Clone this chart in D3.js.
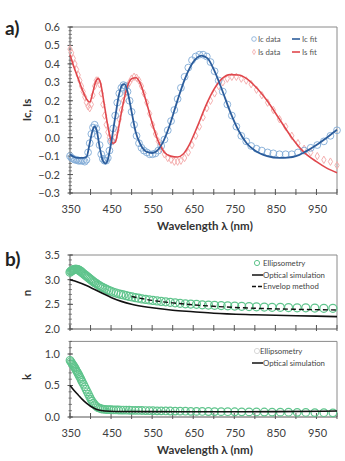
<!DOCTYPE html>
<html>
<head>
<meta charset="utf-8">
<script src="https://cdn.jsdelivr.net/npm/d3@7"></script>
<style>
  body { margin: 0; background: #fff; }
  svg { display: block; font-family: Lato, "Open Sans", sans-serif; }
</style>
</head>
<body>
<svg id="chart" width="345" height="461"></svg>
<script>
// ---- panel a: Ic / Is ----
const dataWl = [350,354,358,362,366,370,374,378,382,386,390,394,398,402,406,410,414,418,422,426,430,434,438,442,446,450,
  455,460,465,470,475,480,485,490,495,500,506,512,518,524,530,537,544,551,558,565,572,580,588,596,604,612,620,
  629,638,647,656,665,674,683,692,702,712,722,733,744,755,767,779,791,804,817,831,845,860,875,890,905,920,936,952,968,984,1000];
const icData = [-0.10,-0.11,-0.115,-0.12,-0.12,-0.125,-0.125,-0.125,-0.125,-0.13,-0.12,-0.08,-0.03,0.02,0.055,0.07,0.05,0.01,-0.04,-0.09,-0.115,-0.125,-0.125,-0.11,-0.07,-0.02,
  0.05,0.12,0.19,0.24,0.27,0.285,0.28,0.25,0.2,0.14,0.07,0.01,-0.03,-0.055,-0.07,-0.08,-0.09,-0.09,-0.085,-0.07,-0.045,-0.01,0.04,0.09,0.15,0.21,0.27,
  0.33,0.38,0.42,0.44,0.45,0.45,0.44,0.41,0.36,0.31,0.25,0.18,0.12,0.06,0.01,-0.02,-0.045,-0.06,-0.07,-0.08,-0.085,-0.09,-0.09,-0.09,-0.08,-0.07,-0.055,-0.04,-0.02,0.01,0.04];
const isData = [0.48,0.46,0.43,0.40,0.37,0.34,0.31,0.28,0.25,0.22,0.19,0.17,0.16,0.18,0.23,0.28,0.31,0.31,0.29,0.24,0.18,0.12,0.07,0.03,0.0,-0.02,
  -0.02,0.0,0.04,0.10,0.15,0.20,0.24,0.28,0.30,0.32,0.33,0.325,0.31,0.28,0.24,0.19,0.13,0.07,0.02,-0.02,-0.06,-0.09,-0.11,-0.12,-0.13,-0.13,-0.125,
  -0.11,-0.08,-0.04,0.01,0.06,0.11,0.16,0.20,0.24,0.28,0.30,0.32,0.33,0.33,0.32,0.31,0.29,0.26,0.23,0.19,0.15,0.10,0.06,0.01,-0.03,-0.06,-0.08,-0.10,-0.12,-0.13,-0.15];

const icFitWl = [350,360,370,380,390,398,405,410,415,422,430,436,442,450,460,470,478,483,490,500,510,520,535,550,560,575,590,610,630,650,670,685,700,720,740,760,780,800,830,860,880,900,920,950,975,1000];
const icFit   = [-0.09,-0.105,-0.11,-0.11,-0.105,-0.03,0.04,0.06,0.04,-0.05,-0.125,-0.14,-0.12,-0.03,0.11,0.24,0.288,0.29,0.25,0.14,0.03,-0.03,-0.075,-0.083,-0.075,-0.03,0.05,0.19,0.32,0.41,0.445,0.43,0.37,0.26,0.14,0.04,-0.03,-0.07,-0.10,-0.11,-0.108,-0.10,-0.08,-0.04,0.0,0.043];
const isFitWl = [350,360,370,380,390,398,405,412,419,425,432,440,448,455,460,468,478,490,500,511,520,535,550,565,580,595,612,625,640,660,680,700,720,740,760,780,800,830,860,890,920,950,975,1000];
const isFit   = [0.45,0.38,0.32,0.26,0.21,0.193,0.24,0.30,0.32,0.29,0.20,0.09,0.0,-0.03,-0.025,0.05,0.17,0.28,0.32,0.325,0.30,0.20,0.08,-0.02,-0.08,-0.10,-0.105,-0.09,-0.04,0.06,0.17,0.26,0.32,0.342,0.34,0.32,0.28,0.20,0.10,0.0,-0.08,-0.13,-0.165,-0.19];

// ---- panel b: n / k ----
const ellWl = [350,352,354,356,358,360,362,364,366,368,370,372,374,376,378,380,383,386,389,392,395,398,401,404,407,410,414,418,422,426,430,435,440,445,450,
  456,462,468,474,480,487,494,501,509,517,525,534,543,552,562,572,583,594,606,618,631,644,658,672,687,702,718,734,751,768,786,804,823,842,862,882,903,924,946,968,990];
const nEll = [3.15,3.17,3.18,3.19,3.20,3.205,3.21,3.21,3.21,3.205,3.20,3.19,3.18,3.17,3.155,3.14,3.12,3.10,3.08,3.06,3.04,3.02,3.00,2.98,2.96,2.94,2.92,2.895,2.875,2.855,2.84,2.82,2.80,2.78,2.765,
  2.745,2.73,2.715,2.70,2.69,2.675,2.66,2.65,2.635,2.625,2.61,2.60,2.59,2.58,2.57,2.56,2.55,2.54,2.53,2.52,2.51,2.505,2.50,2.49,2.485,2.48,2.475,2.47,2.465,2.46,2.455,2.45,2.445,2.44,2.44,2.435,2.43,2.43,2.425,2.42,2.42];
const kEll = [0.90,0.88,0.86,0.84,0.82,0.80,0.78,0.755,0.73,0.71,0.685,0.66,0.635,0.61,0.58,0.555,0.52,0.48,0.44,0.40,0.36,0.32,0.28,0.25,0.22,0.195,0.17,0.15,0.14,0.13,0.125,0.12,0.118,0.116,0.115,
  0.113,0.112,0.111,0.11,0.11,0.108,0.107,0.106,0.105,0.104,0.103,0.102,0.10,0.099,0.098,0.097,0.096,0.095,0.094,0.093,0.092,0.09,0.089,0.088,0.087,0.086,0.085,0.084,0.083,0.082,0.081,0.08,0.079,0.078,0.077,0.076,0.074,0.072,0.07,0.068,0.066];

const nSimWl = [350,370,390,410,430,450,475,500,550,600,650,700,800,900,1000];
const nSim   = [3.0,2.95,2.88,2.80,2.72,2.64,2.56,2.50,2.43,2.38,2.35,2.32,2.29,2.27,2.25];
const nEnvWl = [500,550,600,650,700,800,900,1000];
const nEnv   = [2.66,2.58,2.53,2.49,2.46,2.42,2.40,2.385];
const kSimWl = [350,360,370,380,390,400,410,420,435,460,550,700,850,1000];
const kSim   = [0.5,0.42,0.35,0.28,0.22,0.17,0.135,0.11,0.095,0.088,0.085,0.083,0.085,0.095];

const xTicks = [350,400,450,500,550,600,650,700,750,800,850,900,950,1000];
const xLabels = [350,450,550,650,750,850,950];

const svg = d3.select('#chart');
const x = d3.scaleLinear().domain([350, 1000]).range([70, 337]);

const blueFit = '#2c5d9c', blueDat = '#80aad6';
const redFit = '#e0474c', redDat = '#f3a8a8';
const green = '#5fc48c';
const axisCol = '#555', frameCol = '#8a8a8a', labCol = '#404040';

function frame(y, yMajor, yMinor, fmt) {
    const [y0, y1] = y.range();
    const g = svg.append('g');
    // grey top / right border
    g.append('line').attr('x1', x(350)).attr('x2', x(1000)).attr('y1', y1).attr('y2', y1).attr('stroke', frameCol);
    g.append('line').attr('x1', x(1000)).attr('x2', x(1000)).attr('y1', y0).attr('y2', y1).attr('stroke', frameCol);
    // left axis
    g.append('line').attr('x1', x(350)).attr('x2', x(350)).attr('y1', y0).attr('y2', y1).attr('stroke', axisCol);
    g.selectAll('.mn').data(yMinor).join('line')
        .attr('x1', x(350) - 1.5).attr('x2', x(350) + 2)
        .attr('y1', d => y(d)).attr('y2', d => y(d)).attr('stroke', axisCol).attr('stroke-width', 0.7);
    g.selectAll('.mj').data(yMajor).join('line')
        .attr('x1', x(350) - 2.5).attr('x2', x(350) + 3)
        .attr('y1', d => y(d)).attr('y2', d => y(d)).attr('stroke', axisCol);
    g.selectAll('.yl').data(yMajor).join('text')
        .attr('x', 60).attr('y', d => y(d)).attr('dy', '0.36em')
        .attr('text-anchor', 'end').attr('font-size', 11).attr('fill', labCol)
        .text(fmt);
    // bottom axis
    g.append('line').attr('x1', x(350)).attr('x2', x(1000)).attr('y1', y0).attr('y2', y0).attr('stroke', axisCol);
    g.selectAll('.xt').data(xTicks).join('line')
        .attr('x1', d => x(d)).attr('x2', d => x(d))
        .attr('y1', y0 + 2).attr('y2', y0 - 4).attr('stroke', axisCol);
    return g;
}

function xAxisLabels(yPos, titleY) {
    svg.append('g').selectAll('text').data(xLabels).join('text')
        .attr('x', d => x(d) + 1).attr('y', yPos)
        .attr('text-anchor', 'middle').attr('font-size', 11).attr('fill', labCol)
        .text(d => d);
    svg.append('text').attr('x', 205).attr('y', titleY)
        .attr('text-anchor', 'middle').attr('font-size', 11.5).attr('font-weight', 'bold')
        .attr('fill', '#333').text('Wavelength λ (nm)');
}

function yTitle(txt, cy) {
    svg.append('text').attr('transform', `translate(31,${cy}) rotate(-90)`)
        .attr('text-anchor', 'middle').attr('font-size', 11.5).attr('font-weight', 'bold')
        .attr('fill', '#333').text(txt);
}

const zip = (a, b) => a.map((v, i) => [v, b[i]]);

// ================= panel a =================
const ya = d3.scaleLinear().domain([-0.3, 0.6]).range([193, 27]);
frame(ya, d3.range(-0.3, 0.61, 0.1).map(v => +v.toFixed(2)),
      d3.range(-0.3, 0.601, 0.02).map(v => +v.toFixed(2)), d => d3.format('.1f')(d));
xAxisLabels(213, 230);
yTitle('Ic, Is', 110);
svg.append('text').attr('x', 5).attr('y', 35).attr('font-size', 19).attr('font-weight', 'bold').attr('fill', '#222').text('a)');

const lineA = d3.line().x(d => x(d[0])).y(d => ya(d[1])).curve(d3.curveMonotoneX);
const clipA = svg.append('defs').append('clipPath').attr('id', 'ca');
clipA.append('rect').attr('x', 66).attr('y', 20).attr('width', 275).attr('height', 176);
const ga = svg.append('g').attr('clip-path', 'url(#ca)');

const diamond = d3.symbol().type(d3.symbolDiamond).size(16);
ga.selectAll('.isd').data(zip(dataWl, isData)).join('path')
    .attr('d', diamond).attr('transform', d => `translate(${x(d[0])},${ya(d[1])})`)
    .attr('fill', 'none').attr('stroke', redDat).attr('stroke-width', 0.9);
ga.selectAll('.icd').data(zip(dataWl, icData)).join('circle')
    .attr('cx', d => x(d[0])).attr('cy', d => ya(d[1])).attr('r', 3.4)
    .attr('fill', 'none').attr('stroke', blueDat).attr('stroke-width', 0.9);
ga.append('path').datum(zip(isFitWl, isFit)).attr('d', lineA)
    .attr('fill', 'none').attr('stroke', redFit).attr('stroke-width', 1.6);
ga.append('path').datum(zip(icFitWl, icFit)).attr('d', lineA)
    .attr('fill', 'none').attr('stroke', blueFit).attr('stroke-width', 1.8);

// legend a
const la = svg.append('g').attr('font-size', 7.8).attr('fill', '#555');
la.append('circle').attr('cx', 254).attr('cy', 39).attr('r', 2.3).attr('fill', 'none').attr('stroke', blueDat).attr('stroke-width', 0.8);
la.append('text').attr('x', 258).attr('y', 39).attr('dy', '0.35em').text('Ic data');
la.append('path').attr('d', diamond.size(8)).attr('transform', 'translate(254,52)').attr('fill', 'none').attr('stroke', redDat).attr('stroke-width', 0.8);
la.append('text').attr('x', 258).attr('y', 52).attr('dy', '0.35em').text('Is data');
la.append('line').attr('x1', 292).attr('x2', 300).attr('y1', 39).attr('y2', 39).attr('stroke', blueFit).attr('stroke-width', 1.6);
la.append('text').attr('x', 302).attr('y', 39).attr('dy', '0.35em').text('Ic fit');
la.append('line').attr('x1', 292).attr('x2', 300).attr('y1', 52).attr('y2', 52).attr('stroke', redFit).attr('stroke-width', 1.6);
la.append('text').attr('x', 302).attr('y', 52).attr('dy', '0.35em').text('Is fit');

// ================= panel b: n =================
const yn = d3.scaleLinear().domain([2.0, 3.5]).range([329, 255]);
frame(yn, [2.0, 2.5, 3.0, 3.5], d3.range(2.0, 3.501, 0.1).map(v => +v.toFixed(1)), d => d3.format('.1f')(d));
yTitle('n', 293);
svg.append('text').attr('x', 5).attr('y', 266).attr('font-size', 19).attr('font-weight', 'bold').attr('fill', '#222').text('b)');

const lineN = d3.line().x(d => x(d[0])).y(d => yn(d[1])).curve(d3.curveMonotoneX);
const gn = svg.append('g');
gn.selectAll('circle').data(zip(ellWl, nEll)).join('circle')
    .attr('cx', d => x(d[0])).attr('cy', d => yn(d[1])).attr('r', 4)
    .attr('fill', 'none').attr('stroke', green).attr('stroke-width', 1.2);
gn.append('path').datum(zip(nSimWl, nSim)).attr('d', lineN)
    .attr('fill', 'none').attr('stroke', '#111').attr('stroke-width', 1.6);
gn.append('path').datum(zip(nEnvWl, nEnv)).attr('d', lineN)
    .attr('fill', 'none').attr('stroke', '#111').attr('stroke-width', 1.4).attr('stroke-dasharray', '5,3');

const ln = svg.append('g').attr('font-size', 7.8).attr('fill', '#444');
ln.append('circle').attr('cx', 257).attr('cy', 263).attr('r', 2.6).attr('fill', 'none').attr('stroke', green).attr('stroke-width', 1);
ln.append('text').attr('x', 263).attr('y', 263).attr('dy', '0.35em').text('Ellipsometry');
ln.append('line').attr('x1', 252).attr('x2', 263).attr('y1', 275).attr('y2', 275).attr('stroke', '#111').attr('stroke-width', 1.5);
ln.append('text').attr('x', 263).attr('y', 275).attr('dy', '0.35em').text('Optical simulation');
ln.append('line').attr('x1', 252).attr('x2', 263).attr('y1', 286.5).attr('y2', 286.5).attr('stroke', '#111').attr('stroke-width', 1.4).attr('stroke-dasharray', '4,2');
ln.append('text').attr('x', 263).attr('y', 286.5).attr('dy', '0.35em').text('Envelop method');

// ================= panel b: k =================
const yk = d3.scaleLinear().domain([0, 1.2]).range([417, 341.4]);
frame(yk, [0, 0.5, 1.0], d3.range(0, 1.201, 0.1).map(v => +v.toFixed(1)), d => d3.format('.1f')(d));
yTitle('k', 377);
xAxisLabels(437, 454);

const lineK = d3.line().x(d => x(d[0])).y(d => yk(d[1])).curve(d3.curveMonotoneX);
const gk = svg.append('g');
gk.selectAll('circle').data(zip(ellWl, kEll)).join('circle')
    .attr('cx', d => x(d[0])).attr('cy', d => yk(d[1])).attr('r', 3.8)
    .attr('fill', 'none').attr('stroke', green).attr('stroke-width', 1.2);
gk.append('path').datum(zip(kSimWl, kSim)).attr('d', lineK)
    .attr('fill', 'none').attr('stroke', '#111').attr('stroke-width', 1.6);

const lk = svg.append('g').attr('font-size', 7.8).attr('fill', '#444');
lk.append('circle').attr('cx', 257).attr('cy', 351).attr('r', 2.6).attr('fill', 'none').attr('stroke', '#d8d8d8').attr('stroke-width', 1);
lk.append('text').attr('x', 260).attr('y', 351).attr('dy', '0.35em').text('Ellipsometry');
lk.append('line').attr('x1', 252).attr('x2', 263).attr('y1', 363).attr('y2', 363).attr('stroke', '#111').attr('stroke-width', 1.5);
lk.append('text').attr('x', 263).attr('y', 363).attr('dy', '0.35em').text('Optical simulation');
</script>
</body>
</html>
